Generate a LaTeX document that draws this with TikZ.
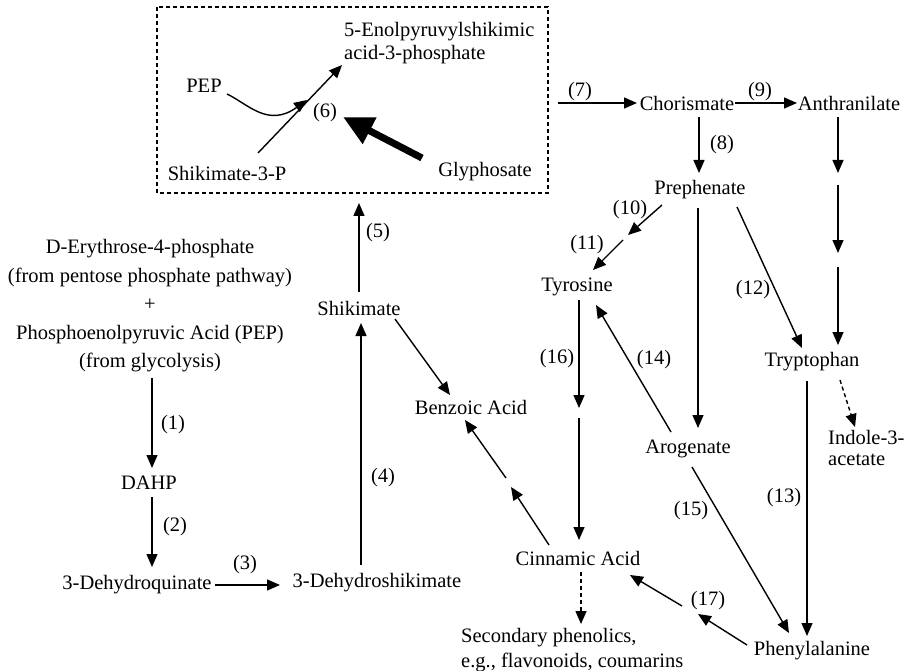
\documentclass[tikz,border=0pt]{standalone}
\usepackage{fontspec}
\setmainfont{Liberation Serif}
\usetikzlibrary{arrows.meta}
\begin{document}
\begin{tikzpicture}[x=1pt,y=-1pt,
  every node/.style={font=\fontsize{20.5}{23}\selectfont, inner sep=0pt},
  arr/.style={line width=1.4pt, -{Triangle[length=13pt,width=11pt]}},
  darr/.style={arr, dash pattern=on 4pt off 3pt},
  glyarr/.style={line width=7pt, -{Triangle[length=30pt,width=28pt]}},
  boxline/.style={line width=1.3pt, dash pattern=on 4pt off 3pt}]
\useasboundingbox (0,0) rectangle (910,671);

% inhibition box
\draw[boxline] (157,7) rectangle (548,193);
\node (enol) [anchor=west, align=left] at (344,43) {5-Enolpyruvylshikimic\\acid-3-phosphate};
\node (pep) at (204,86) {PEP};
\node (s3p) at (227,173) {Shikimate-3-P};
\node (gly) at (485,172) {Glyphosate};
\node (six) at (325,113) {(6)};
\coordinate (s3pa) at (258,153);
\coordinate (s3pb) at (342,65);
\coordinate (pepa) at (227,94);
\coordinate (pepb) at (307,100);
\coordinate (glya) at (422,158);
\coordinate (glyb) at (343,117);
\draw[arr] (s3pa) -- (s3pb);
\draw[arr] (pepa) .. controls (248,104) and (268,128) .. (pepb);
\draw[glyarr] (glya) -- (glyb);

% left column
\node (start) [align=center, font=\fontsize{20.5}{28.5}\selectfont] at (150,306) {D-Erythrose-4-phosphate\\(from pentose phosphate pathway)\\+\\Phosphoenolpyruvic Acid (PEP)\\(from glycolysis)};
\node (dahp) at (149,483) {DAHP};
\node (dhq) at (137,585) {3-Dehydroquinate};
\node (dhs) at (377,583) {3-Dehydroshikimate};
\node (shik) at (359,308) {Shikimate};
\node (benz) at (471,407) {Benzoic Acid};

\node (l1) at (173,425) {(1)};
\node (l2) at (175,527) {(2)};
\node (l3) at (245,565) {(3)};
\node (l4) at (383,478) {(4)};
\node (l5) at (378,233) {(5)};

\coordinate (a1s) at (152,378); \coordinate (a1e) at (152,468);
\coordinate (a2s) at (152,497); \coordinate (a2e) at (152,567);
\coordinate (a3s) at (215,585); \coordinate (a3e) at (280,585);
\coordinate (a4s) at (361,565); \coordinate (a4e) at (361,323);
\coordinate (a5s) at (359,292); \coordinate (a5e) at (359,203);
\coordinate (sbs) at (395,319); \coordinate (sbe) at (450,395);
\draw[arr] (a1s) -- (a1e);
\draw[arr] (a2s) -- (a2e);
\draw[arr] (a3s) -- (a3e);
\draw[arr] (a4s) -- (a4e);
\draw[arr] (a5s) -- (a5e);
\draw[arr] (sbs) -- (sbe);

% right part
\node (chor) at (687,103) {Chorismate};
\node (anth) at (849,103) {Anthranilate};
\node (preph) at (700,190) {Prephenate};
\node (tyr) at (577,287) {Tyrosine};
\node (trp) at (812,362) {Tryptophan};
\node (ind) [anchor=west, align=left, font=\fontsize{20.5}{20.5}\selectfont] at (828,448) {Indole-3-\\acetate};
\node (arog) at (688,449) {Arogenate};
\node (cinn) at (578,558) {Cinnamic Acid};
\node (phe) at (812,651) {Phenylalanine};
\node (sec) [anchor=west, align=left, font=\fontsize{20.5}{25}\selectfont] at (461,650) {Secondary phenolics,\\e.g., flavonoids, coumarins};

\node (l7) at (580,92) {(7)};
\node (l8) at (722,145) {(8)};
\node (l9) at (760,92) {(9)};
\node (l10) at (630,210) {(10)};
\node (l11) at (587,245) {(11)};
\node (l12) at (753,290) {(12)};
\node (l13) at (784,498) {(13)};
\node (l14) at (654,360) {(14)};
\node (l15) at (691,511) {(15)};
\node (l16) at (557,359) {(16)};
\node (l17) at (708,601) {(17)};

\coordinate (a7s) at (558,103); \coordinate (a7e) at (637,103);
\coordinate (a9s) at (735,103); \coordinate (a9e) at (797,103);
\coordinate (a8s) at (699,117); \coordinate (a8e) at (699,173);
\draw[arr] (a7s) -- (a7e);
\draw[arr] (a9s) -- (a9e);
\draw[arr] (a8s) -- (a8e);

% anthranilate -> tryptophan (three steps)
\coordinate (t1s) at (838,117); \coordinate (t1e) at (838,173);
\coordinate (t2s) at (838,185); \coordinate (t2e) at (838,253);
\coordinate (t3s) at (838,267); \coordinate (t3e) at (838,345);
\draw[arr] (t1s) -- (t1e);
\draw[arr] (t2s) -- (t2e);
\draw[arr] (t3s) -- (t3e);

% prephenate -> tyrosine (10),(11)
\coordinate (a10s) at (662,205); \coordinate (a10e) at (628,235);
\coordinate (a11s) at (623,240); \coordinate (a11e) at (593,270);
\draw[arr] (a10s) -- (a10e);
\draw[arr] (a11s) -- (a11e);

% tyrosine -> cinnamic (16)
\coordinate (a16s) at (579,300); \coordinate (a16m) at (579,408);
\coordinate (a16n) at (579,418); \coordinate (a16e) at (579,540);
\draw[arr] (a16s) -- (a16m);
\draw[arr] (a16n) -- (a16e);

% arogenate -> tyrosine (14)
\coordinate (a14s) at (671,432); \coordinate (a14e) at (596,305);
\draw[arr] (a14s) -- (a14e);

% prephenate -> arogenate
\coordinate (pas) at (698,208); \coordinate (pae) at (698,428);
\draw[arr] (pas) -- (pae);

% prephenate -> tryptophan (12)
\coordinate (a12s) at (737,207); \coordinate (a12e) at (802,348);
\draw[arr] (a12s) -- (a12e);

% tryptophan -> indole-3-acetate
\coordinate (tis) at (840,380); \coordinate (tie) at (855,427);
\draw[darr] (tis) -- (tie);

% tryptophan -> phenylalanine (13)
\coordinate (a13s) at (807,381); \coordinate (a13e) at (807,636);
\draw[arr] (a13s) -- (a13e);

% arogenate -> phenylalanine (15)
\coordinate (a15s) at (692,467); \coordinate (a15e) at (789,633);
\draw[arr] (a15s) -- (a15e);

% phenylalanine -> cinnamic (17)
\coordinate (a17s) at (747,645); \coordinate (a17m) at (698,614);
\coordinate (a17n) at (682,606); \coordinate (a17e) at (630,575);
\draw[arr] (a17s) -- (a17m);
\draw[arr] (a17n) -- (a17e);

% cinnamic -> benzoic
\coordinate (cbs) at (549,545); \coordinate (cbm) at (511,487);
\coordinate (cbn) at (506,478); \coordinate (cbe) at (465,420);
\draw[arr] (cbs) -- (cbm);
\draw[arr] (cbn) -- (cbe);

% cinnamic -> secondary phenolics
\coordinate (css) at (581,572); \coordinate (cse) at (581,624);
\draw[darr] (css) -- (cse);
\end{tikzpicture}
\end{document}
